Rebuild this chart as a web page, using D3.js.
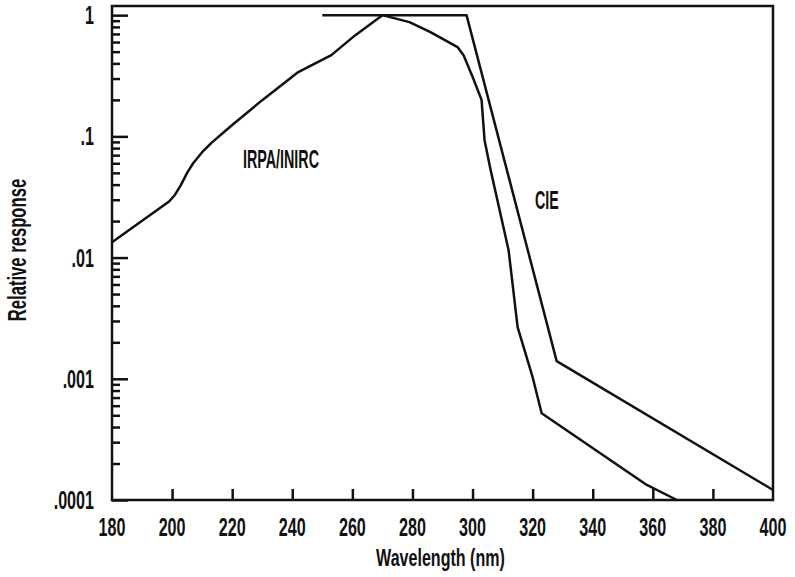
<!DOCTYPE html>
<html>
<head>
<meta charset="utf-8">
<script src="https://cdn.jsdelivr.net/npm/d3@7"></script>
<style>
    body { margin: 0; background: #fff; }
    svg { display: block; }
    .lbl { font-family: "Liberation Sans", Arial, sans-serif; font-weight: bold; fill: #111; }
</style>
</head>
<body>
<div id="chart"></div>
<script>

// tick values and labels
let xTicks = [180, 200, 220, 240, 260, 280, 300, 320, 340, 360, 380, 400];
let yTicks = [0.0001, 0.001, 0.01, 0.1, 1];
let yTickLabels = [".0001", ".001", ".01", ".1", "1"];

// IRPA/INIRC curve
let irpaWavelength = [180, 199, 201, 203, 205, 207, 210, 213, 220, 230, 242, 253, 261, 270, 279, 286, 295, 297, 300, 303, 304, 306, 312, 315, 320, 323, 358, 368];
let irpaResponse = [0.0134, 0.029, 0.033, 0.040, 0.050, 0.060, 0.074, 0.088, 0.124, 0.199, 0.339, 0.468, 0.684, 1.0, 0.876, 0.724, 0.545, 0.468, 0.31, 0.20, 0.093, 0.053, 0.0115, 0.00267, 0.00103, 0.00052, 0.000133, 0.0001];

// CIE curve
let cieWavelength = [250, 298, 328, 400];
let cieResponse = [1, 1, 0.0014, 0.000121];

let margin = {top: 6, right: 22, bottom: 77, left: 112};
let width = 795 - margin.left - margin.right;
let height = 577 - margin.top - margin.bottom;

let svg = d3.select("#chart").append("svg")
    .attr("width", 795)
    .attr("height", 577)
    .append("g")
    .attr("transform", "translate(" + margin.left + "," + margin.top + ")");

let x = d3.scaleLinear().domain([180, 400]).range([0, width]);
let y = d3.scaleLog().domain([0.0001, 1.19]).range([height, 0]);

// minor ticks on the log axis: 2..9 of each decade
let yMinor = [];
yTicks.slice(0, -1).forEach(d => {
    for (let k = 2; k <= 9; k++) yMinor.push(d * k);
});

// scaled (condensed) text helper
function label(parent, px, py, txt, anchor, sx, size) {
    let g = parent.append("g").attr("transform", "translate(" + px + "," + py + ")");
    g.append("text")
        .attr("class", "lbl")
        .attr("text-anchor", anchor)
        .attr("transform", "scale(" + sx + ",1)")
        .style("font-size", size + "px")
        .text(txt);
    return g;
}

// axes (ticks only)
let yMajorAxis = d3.axisLeft(y).tickValues(yTicks).tickSize(-16).tickFormat("");
let yMinorAxis = d3.axisLeft(y).tickValues(yMinor).tickSize(-8).tickFormat("");
let xAxis = d3.axisBottom(x).tickValues(xTicks.slice(1, -1)).tickSize(-11).tickFormat("");

[yMajorAxis, yMinorAxis].forEach(a => {
    let g = svg.append("g").call(a);
    g.select(".domain").remove();
    g.selectAll("line").attr("stroke", "#111").attr("stroke-width", 2.5);
});
let gx = svg.append("g").attr("transform", "translate(0," + height + ")").call(xAxis);
gx.select(".domain").remove();
gx.selectAll("line").attr("stroke", "#111").attr("stroke-width", 2.5);

// frame
svg.append("rect")
    .attr("x", 0).attr("y", 0)
    .attr("width", width).attr("height", height)
    .attr("fill", "none")
    .attr("stroke", "#111")
    .attr("stroke-width", 2.5);

// tick labels
yTicks.forEach((d, i) => label(svg, -18, y(d) + 9, yTickLabels[i], "end", 0.62, 26));
xTicks.forEach(d => label(svg, x(d), 530, d, "middle", 0.62, 26));

// axis titles
label(svg, width / 2 - 2, 560, "Wavelength (nm)", "middle", 0.67, 24);
label(svg, -86, 244, "Relative response", "middle", 0.64, 26)
    .attr("transform", "translate(-86,244) rotate(-90)");

// curves
let line = d3.line()
    .x(d => x(d[0]))
    .y(d => y(d[1]));

svg.append("path")
    .datum(irpaWavelength.map((w, i) => [w, irpaResponse[i]]))
    .attr("d", line)
    .attr("fill", "none")
    .attr("stroke", "#111")
    .attr("stroke-width", 2.5)
    .attr("stroke-linejoin", "round");

svg.append("path")
    .datum(cieWavelength.map((w, i) => [w, cieResponse[i]]))
    .attr("d", line)
    .attr("fill", "none")
    .attr("stroke", "#111")
    .attr("stroke-width", 2.5)
    .attr("stroke-linejoin", "round");

// curve labels
label(svg, 131, 162, "IRPA/INIRC", "start", 0.55, 26);
label(svg, 423, 203, "CIE", "start", 0.55, 26);

</script>
</body>
</html>
